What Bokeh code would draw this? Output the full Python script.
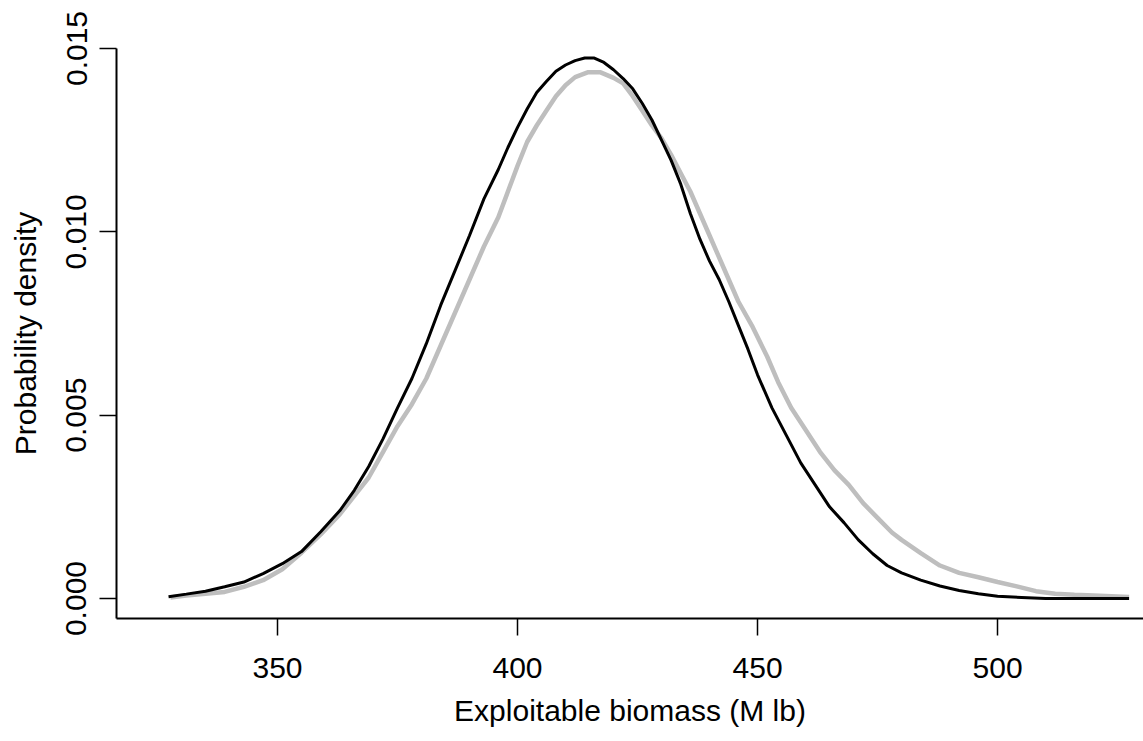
from bokeh.plotting import figure
from bokeh.models import Range1d, FixedTicker, PrintfTickFormatter
from bokeh.embed import file_html
from bokeh.resources import INLINE

# Black curve (density)
black_x = [327.3, 331, 335, 339, 343, 347, 351, 355, 359, 363, 366, 369, 372, 375, 378,
           381, 384, 387, 390, 393, 396, 398, 400, 402, 404, 406, 408, 410, 412, 414,
           416, 418, 420, 422, 424, 426, 428, 430, 432, 434, 436, 438, 440, 442, 444,
           446, 448, 450, 453, 456, 459, 462, 465, 468, 471, 474, 477, 480, 484, 488,
           492, 496, 500, 505, 510, 515, 520, 527.4]
black_y = [0.00005, 0.00012, 0.0002, 0.00032, 0.00045, 0.00068, 0.00095, 0.00128, 0.00182,
           0.0024, 0.00295, 0.0036, 0.00436, 0.0052, 0.0060, 0.00695, 0.0080, 0.00895,
           0.0099, 0.0109, 0.0117, 0.0123, 0.01285, 0.01335, 0.0138, 0.0141, 0.01438,
           0.01455, 0.01467, 0.01474, 0.01474, 0.01462, 0.01442, 0.01418, 0.0139, 0.0135,
           0.01305, 0.0125, 0.01195, 0.0113, 0.0105, 0.0098, 0.0092, 0.0087, 0.0081,
           0.00745, 0.0068, 0.0061, 0.0052, 0.00445, 0.0037, 0.0031, 0.0025, 0.00207,
           0.0016, 0.00122, 0.0009, 0.0007, 0.0005, 0.00034, 0.00022, 0.00013, 0.00006,
           0.00003, 0.0, 0.0, 0.0, 0.0]

# Grey curve (density)
grey_x = [327.7, 331, 335, 339, 343, 347, 351, 355, 359, 363, 366, 369, 372, 375, 378,
          381, 384, 387, 390, 393, 396, 398, 400, 402, 404, 406, 408, 410, 412, 414.6,
          417.3, 420, 422, 424, 426, 428, 430, 432, 434, 436, 438, 440, 443, 446, 449,
          452, 454.3, 457, 460, 463, 466, 469, 472, 475, 478, 480, 484, 488, 492, 496,
          500, 504, 508, 512, 516, 520, 527.4]
grey_y = [0.00003, 0.00008, 0.00013, 0.00018, 0.00032, 0.0005, 0.0008, 0.00125, 0.00175,
          0.0023, 0.0028, 0.0033, 0.0040, 0.0047, 0.0053, 0.0060, 0.0069, 0.0078,
          0.0087, 0.0096, 0.0104, 0.0111, 0.0118, 0.01245, 0.0129, 0.0133, 0.0137,
          0.014, 0.01422, 0.01435, 0.01435, 0.0142, 0.01405, 0.0137, 0.0133, 0.0129,
          0.01255, 0.0121, 0.0116, 0.0111, 0.0105, 0.0099, 0.009, 0.0081, 0.0074,
          0.0066, 0.0059, 0.0052, 0.0046, 0.004, 0.0035, 0.0031, 0.0026, 0.0022,
          0.0018, 0.0016, 0.00124, 0.0009, 0.0007, 0.00058, 0.00045, 0.00033, 0.0002,
          0.00013, 0.0001, 0.00008, 0.00004]

x_ticks = [350, 400, 450, 500]
y_ticks = [0.000, 0.005, 0.010, 0.015]

FONT = "Liberation Sans"
FS = "30px"

p = figure(width=1143, height=741, output_backend="svg", toolbar_location=None,
           x_range=Range1d(316.46, 530.4), y_range=Range1d(-0.000545, 0.015),
           min_border_left=116, min_border_right=0, min_border_top=48, min_border_bottom=123)

p.line(grey_x, grey_y, line_color="#bebebe", line_width=4.5)
p.line(black_x, black_y, line_color="black", line_width=3)

p.xgrid.visible = False
p.ygrid.visible = False
p.outline_line_color = None
p.background_fill_color = "white"
p.border_fill_color = "white"

for ax in (p.xaxis[0], p.yaxis[0]):
    ax.axis_line_color = "black"
    ax.axis_line_width = 2
    ax.major_tick_line_color = "black"
    ax.major_tick_line_width = 1.5
    ax.major_tick_out = 17
    ax.major_tick_in = 0
    ax.minor_tick_line_color = None
    ax.major_label_text_font = FONT
    ax.major_label_text_font_size = FS
    ax.major_label_text_color = "black"
    ax.axis_label_text_font = FONT
    ax.axis_label_text_font_size = FS
    ax.axis_label_text_font_style = "normal"
    ax.axis_label_text_color = "black"

p.xaxis[0].ticker = FixedTicker(ticks=x_ticks)
p.xaxis[0].axis_label = "Exploitable biomass (M lb)"
p.xaxis[0].major_label_standoff = 22
p.xaxis[0].axis_label_standoff = 13

p.yaxis[0].ticker = FixedTicker(ticks=y_ticks)
p.yaxis[0].formatter = PrintfTickFormatter(format="%.3f")
p.yaxis[0].major_label_orientation = "vertical"
p.yaxis[0].axis_label = "Probability density"
p.yaxis[0].major_label_standoff = 13
p.yaxis[0].axis_label_standoff = 22

open("out.html", "w").write(file_html(p, INLINE))
